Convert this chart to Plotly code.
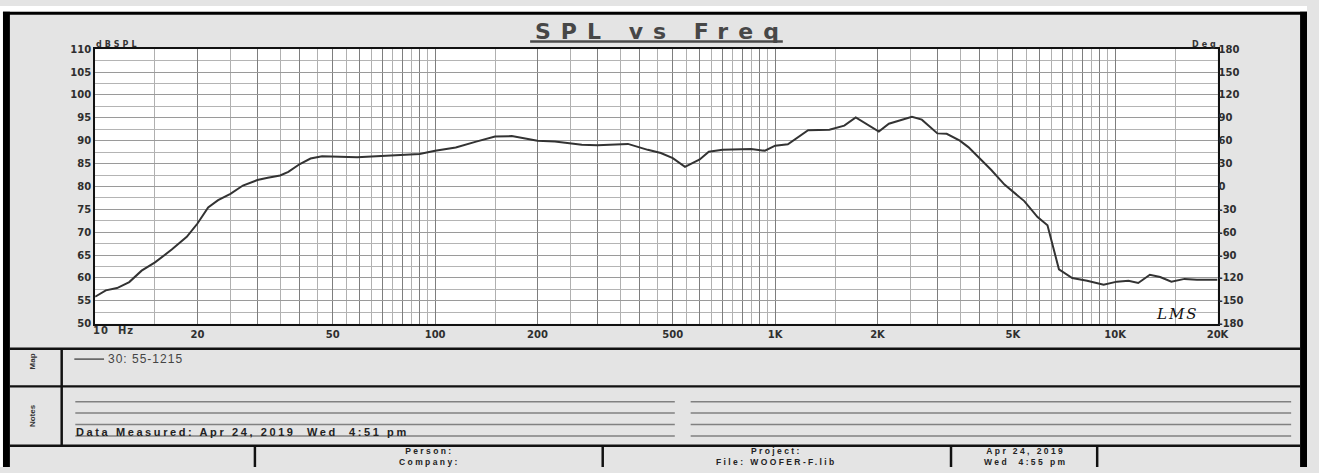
import math
import plotly.graph_objects as go

# ---------------- data ----------------
freq_hz = [10, 10.75, 11.6, 12.6, 13.7, 15, 16.8, 18.6, 20, 21.5, 23, 25, 27.2, 30, 32.2, 35, 37,
           40, 43, 46.5, 59, 67, 77, 90, 100, 115, 132, 150, 168, 200, 225, 270, 300, 369, 422,
           461, 500, 543, 600, 638, 700, 850, 933, 1000, 1090, 1250, 1444, 1597, 1726, 2018,
           2160, 2525, 2700, 3000, 3195, 3493, 3700, 4040, 4322, 4726, 5404, 5912, 6323, 6833,
           7476, 8271, 9248, 10120, 10940, 11690, 12650, 13560, 14630, 16000, 17400, 20000]
spl_db = [55.9, 57.3, 57.8, 59.1, 61.6, 63.4, 66.2, 69.0, 71.9, 75.4, 77.0, 78.4, 80.2, 81.4, 81.9,
          82.4, 83.2, 84.9, 86.1, 86.6, 86.4, 86.6, 86.8, 87.1, 87.8, 88.5, 89.8, 90.9, 91.0, 90.0,
          89.8, 89.1, 89.0, 89.3, 88.0, 87.3, 86.2, 84.3, 85.9, 87.6, 88.0, 88.2, 87.8, 88.9, 89.2,
          92.3, 92.4, 93.3, 95.1, 92.0, 93.7, 95.2, 94.6, 91.6, 91.5, 90.0, 88.6, 85.7, 83.6, 80.4,
          76.8, 73.3, 71.5, 61.9, 60.0, 59.4, 58.5, 59.2, 59.4, 58.9, 60.7, 60.2, 59.2, 59.8, 59.6,
          59.6]

series_name = "30: 55-1215"
x_label_vals = [20, 50, 100, 200, 500, 1000, 2000, 5000, 10000, 20000]
x_label_text = ["20", "50", "100", "200", "500", "1K", "2K", "5K", "10K", "20K"]
y_left_ticks = list(range(50, 111, 5))
y_right_ticks = list(range(-180, 181, 30))

title_text = "SPL vs Freq"
data_measured = "Data Measured: Apr 24, 2019\u00a0 Wed\u00a0 4:51 pm"
footer_cells = [("Person:", "Company:"), ("Project:", "File: WOOFER-F.lib"),
                ("Apr 24, 2019", "Wed\u00a0 4:55 pm")]

# ---------------- layout helpers ----------------
W, H = 1319, 473
def X(px):
    return px / W
def Y(py):
    return 1 - py / H

decades = [10, 100, 1000, 10000]
major_grid = sorted(set([m * d for d in decades for m in range(1, 10)] + [20000]))
minor_grid = [(m + 0.5) * d for d in decades for m in range(1, 10)]
label_map = dict(zip(x_label_vals, x_label_text))
major_text = [label_map.get(v, "") for v in major_grid]

TICKFONT = dict(family="DejaVu Sans", size=10, color="#2e2e2e", weight=700)

fig = go.Figure()
fig.add_trace(go.Scatter(x=freq_hz, y=spl_db, mode="lines", name=series_name,
                         line=dict(color="#333333", width=2), showlegend=False,
                         hoverinfo="x+y"))
fig.add_trace(go.Scatter(x=[], y=[], yaxis="y2", showlegend=False))

fig.update_layout(
    width=W, height=H, autosize=False,
    margin=dict(l=0, r=0, t=0, b=0, pad=0),
    paper_bgcolor="#e4e4e4", plot_bgcolor="#ffffff",
    xaxis=dict(type="log", range=[1, math.log10(20000)], domain=[X(96), X(1228.7)],
               tickmode="array", tickvals=major_grid, ticktext=major_text,
               showgrid=True, gridcolor="#7e7e7e", gridwidth=1,
               minor=dict(tickmode="array", tickvals=minor_grid, showgrid=True,
                          gridcolor="#b0b0b0", gridwidth=1, ticks=""),
               ticks="", showline=True, linecolor="#111111", linewidth=2, mirror=True,
               zeroline=False, tickfont=TICKFONT, tickangle=0),
    yaxis=dict(range=[50, 110], domain=[Y(326), Y(44.3)],
               tickmode="array", tickvals=y_left_ticks, ticktext=[str(v) for v in y_left_ticks],
               showgrid=True, gridcolor="#9a9a9a", gridwidth=1,
               minor=dict(dtick=2.5, showgrid=True, gridcolor="#b4b4b4", gridwidth=1, ticks=""),
               ticks="", showline=True, linecolor="#111111", linewidth=2, mirror=True,
               zeroline=False, tickfont=TICKFONT),
    yaxis2=dict(range=[-180, 180], overlaying="y", side="right", anchor="x",
                tickmode="array", tickvals=y_right_ticks,
                ticktext=[str(v) for v in y_right_ticks],
                showgrid=False, zeroline=False, showline=False, ticks="",
                tickfont=TICKFONT),
)

shapes = []
def rect(x0, y0, x1, y1, color):
    shapes.append(dict(type="rect", xref="paper", yref="paper", x0=X(x0), x1=X(x1),
                       y0=Y(y1), y1=Y(y0), fillcolor=color, line=dict(width=0),
                       layer="above"))
def hline(x0, x1, y, color, width):
    shapes.append(dict(type="line", xref="paper", yref="paper", x0=X(x0), x1=X(x1),
                       y0=Y(y), y1=Y(y), line=dict(color=color, width=width),
                       layer="above"))

# white strip above / left of the frame
rect(0, 0, W, 6, "#ffffff")
rect(0, 0, 3, H, "#ffffff")
# outer frame
rect(3, 6, W, 9, "#000000")
rect(3, 6, 10, H, "#000000")
rect(1312, 6, W, H, "#000000")
# panel separators
rect(10, 350.5, 1312, 353, "#111111")
rect(10, 389, 1312, 391.5, "#111111")
rect(10, 450, 1312, 452.5, "#111111")
rect(61, 351, 63.5, 451, "#111111")
for xv in (256, 607, 958.5, 1106):
    rect(xv, 451, xv + 2.5, H, "#111111")
# notes ruled lines
for yv in (406, 417.7, 429.3, 441.3):
    hline(76, 681, yv, "#808080", 1.5)
    hline(697, 1303, yv, "#808080", 1.5)
# legend sample line in Map panel
hline(75, 105, 362.3, "#555555", 1.5)
# title underline
hline(535, 790, 36.5, "#4a4a4a", 2.5)

annotations = []
def txt(x, y, text, size, xanchor="center", family="Liberation Sans", bold=True,
        color="#333333", spacing=0, angle=0, italic=False, yanchor="middle"):
    t = text
    if spacing:
        t = '<span style="letter-spacing:%spx">%s</span>' % (spacing, t)
    if bold:
        t = "<b>" + t + "</b>"
    if italic:
        t = "<i>" + t + "</i>"
    annotations.append(dict(x=X(x), y=Y(y), xref="paper", yref="paper", text=t,
                            showarrow=False, xanchor=xanchor, yanchor=yanchor,
                            textangle=angle, borderpad=0,
                            font=dict(family=family, size=size, color=color)))

txt(668, 26, title_text, 22, color="#474747", family="DejaVu Sans", spacing=10)
txt(96, 39.5, "dBSPL", 8, xanchor="left", family="DejaVu Sans", spacing=3)
txt(1231, 39.5, "Deg", 8, xanchor="right", family="DejaVu Sans", spacing=3)
txt(93, 332.5, "10\u00a0\u00a0Hz", 10, xanchor="left", family="DejaVu Sans", spacing=1)
txt(1188, 316, "LMS", 15, family="DejaVu Serif", bold=False, italic=True,
    color="#111111", spacing=2)
txt(108, 362.3, series_name, 12, xanchor="left", bold=False, color="#444444", spacing=1)
txt(33, 365, "Map", 8, family="Liberation Sans", angle=-90)
txt(33, 420, "Notes", 8, family="Liberation Sans", angle=-90)
txt(76, 437.3, data_measured, 11, xanchor="left", color="#222222", spacing=2.6)

centers = [433, 784, 1035]
for cx, (l1, l2) in zip(centers, footer_cells):
    txt(cx, 462.5, l1 + "<br>" + l2, 8.5, color="#222222", spacing=2.4)

fig.update_layout(shapes=shapes, annotations=annotations)

# page CSS: no body margin, and clip the figure to its own box so nothing spills
reset_js = ("document.documentElement.style.margin='0';"
            "document.body.style.margin='0';"
            "document.querySelectorAll('.plotly-graph-div, .svg-container')"
            ".forEach(function(e){e.style.overflow='hidden';});")
post = "});" + reset_js + "Promise.resolve().then(function(){" + reset_js
fig.write_html("out.html", config={"displayModeBar": False}, post_script=post)
